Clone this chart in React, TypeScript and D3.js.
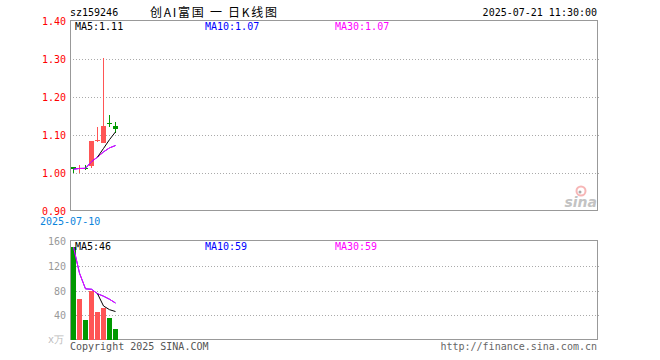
import React, { useEffect, useRef } from "react";
import * as d3 from "d3";

const dates = ["2025-07-10", "2025-07-11", "2025-07-14", "2025-07-15", "2025-07-16", "2025-07-17", "2025-07-18", "2025-07-21"];
const opens = [1.016, 1.013, 1.014, 1.017, 1.085, 1.078, 1.132, 1.124];
const highs = [1.016, 1.021, 1.021, 1.084, 1.12, 1.302, 1.152, 1.135];
const lows = [0.999, 1.001, 1.008, 1.013, 1.082, 1.078, 1.12, 1.106];
const closes = [1.01, 1.014, 1.013, 1.084, 1.088, 1.124, 1.13, 1.115];
const volumes = [150, 66, 32, 80, 46, 51, 36, 17];

const priceTicks = [1.4, 1.3, 1.2, 1.1, 1.0, 0.9];
const volTicks = [160, 120, 80, 40];

const svgWidth = 660;
const svgHeight = 360;
const left = 70;
const right = 597;
const mono = "'DejaVu Sans Mono', monospace";

const red = "#ff5555";
const green = "#009900";

// moving average using whatever data is available (like sina does on new listings)
function movAvg(vals: number[], n: number, needFull: boolean) {
  return vals.map((v, i) => {
    if (needFull && i < n - 1) return null;
    const s = vals.slice(Math.max(0, i - n + 1), i + 1);
    return d3.mean(s) as number;
  });
}

export default function App() {
  const ref = useRef<HTMLDivElement>(null);

  useEffect(() => {
    const el = ref.current;
    if (!el) return;
    el.innerHTML = "";
    const svg = d3.select(el).append("svg")
      .attr("width", svgWidth)
      .attr("height", svgHeight)
      .style("display", "block");

    const xScale = d3.scaleBand<string>()
      .domain(dates)
      .range([left, left + 6 * dates.length]);
    const cx = (d: string) => (xScale(d) as number) + 3.5;

    const yScale = d3.scaleLinear().domain([0.9, 1.4]).range([211, 21]);
    const vScale = d3.scaleLinear().domain([0, 160]).range([340, 241]);

    // header
    svg.append("text").text("sz159246")
      .attr("x", left).attr("y", 16).attr("font-family", mono).attr("font-size", 10).attr("fill", "#000");
    svg.append("text").text("创AI富国 一 日K线图")
      .attr("x", 150).attr("y", 17).attr("font-family", "'Noto Sans CJK SC', sans-serif")
      .attr("font-size", 12).attr("fill", "#000").attr("textLength", 127);
    svg.append("text").text("2025-07-21 11:30:00")
      .attr("x", right).attr("y", 16).attr("text-anchor", "end")
      .attr("font-family", mono).attr("font-size", 10).attr("fill", "#000");

    // price grid + frame
    const pg = svg.append("g").attr("shape-rendering", "crispEdges");
    pg.selectAll("line.grid")
      .data(priceTicks.slice(1, -1))
      .enter().append("line")
      .attr("x1", left).attr("x2", right + 2)
      .attr("y1", d => Math.round(yScale(d)) + 0.5)
      .attr("y2", d => Math.round(yScale(d)) + 0.5)
      .attr("stroke", "#aaa").attr("stroke-dasharray", "1 2");
    pg.append("rect")
      .attr("x", left + 0.5).attr("y", 20.5)
      .attr("width", right - left).attr("height", 190)
      .attr("fill", "none").attr("stroke", "#999");
    svg.selectAll("text.ptick")
      .data(priceTicks)
      .enter().append("text")
      .text(d => d.toFixed(2))
      .attr("x", 66).attr("y", d => yScale(d) + 4)
      .attr("text-anchor", "end").attr("font-family", mono).attr("font-size", 10).attr("fill", "#ff0000");
    svg.append("text").text("2025-07-10")
      .attr("x", 40).attr("y", 225).attr("font-family", mono).attr("font-size", 10).attr("fill", "#0a84dc");

    // sina logo (rough)
    const logo = svg.append("g").attr("opacity", 0.5);
    logo.append("circle").attr("cx", 581).attr("cy", 191).attr("r", 4.5).attr("fill", "none").attr("stroke", "#f07070").attr("stroke-width", 2);
    logo.append("circle").attr("cx", 580).attr("cy", 192).attr("r", 1.5).attr("fill", "#555");
    logo.append("text").text("sina")
      .attr("x", 597).attr("y", 207).attr("text-anchor", "end")
      .attr("font-family", "'DejaVu Sans', sans-serif").attr("font-style", "italic").attr("font-weight", "bold")
      .attr("font-size", 14).attr("fill", "#888");

    // candles: wick as 1px rect, body as 5px rect
    const cg = svg.append("g").attr("shape-rendering", "crispEdges");
    dates.forEach((d, i) => {
      const up = closes[i] >= opens[i];
      const col = up ? red : green;
      const hy = Math.round(yScale(highs[i]));
      const ly = Math.round(yScale(lows[i]));
      cg.append("rect")
        .attr("x", (xScale(d) as number) + 3).attr("width", 1)
        .attr("y", hy).attr("height", Math.max(1, ly - hy))
        .attr("fill", col);
      const top = yScale(Math.max(opens[i], closes[i]));
      const bot = yScale(Math.min(opens[i], closes[i]));
      cg.append("rect")
        .attr("x", (xScale(d) as number) + 1).attr("width", 5)
        .attr("y", Math.round(top)).attr("height", Math.max(1, Math.round(bot - top)))
        .attr("fill", col);
    });

    const line = d3.line<[number, number | null]>()
      .defined(p => p[1] !== null)
      .x(p => p[0]).y(p => p[1] as number);

    const pMa5 = movAvg(closes, 5, true);
    const pMa10 = movAvg(closes, 10, false);
    const pMa30 = movAvg(closes, 30, false);
    [[pMa10, "#0000ff"], [pMa30, "#ff00ff"], [pMa5, "#000"]].forEach(([ma, c]) => {
      svg.append("path")
        .attr("d", line(dates.map((d, i) => [cx(d), (ma as any)[i] === null ? null : yScale((ma as any)[i])])))
        .attr("fill", "none").attr("stroke", c as string).attr("stroke-width", 1);
    });

    svg.append("text").text("MA5:" + (pMa5[7] as number).toFixed(2))
      .attr("x", 75).attr("y", 30).attr("font-family", mono).attr("font-size", 10).attr("fill", "#000");
    svg.append("text").text("MA10:" + (pMa10[7] as number).toFixed(2))
      .attr("x", 205).attr("y", 30).attr("font-family", mono).attr("font-size", 10).attr("fill", "#0000ff");
    svg.append("text").text("MA30:" + (pMa30[7] as number).toFixed(2))
      .attr("x", 335).attr("y", 30).attr("font-family", mono).attr("font-size", 10).attr("fill", "#ff00ff");

    // volume panel
    const vg = svg.append("g").attr("shape-rendering", "crispEdges");
    vg.selectAll("line.grid")
      .data(volTicks.slice(1))
      .enter().append("line")
      .attr("x1", left).attr("x2", right + 2)
      .attr("y1", d => Math.round(vScale(d)) + 0.5)
      .attr("y2", d => Math.round(vScale(d)) + 0.5)
      .attr("stroke", "#aaa").attr("stroke-dasharray", "1 2");
    vg.append("rect")
      .attr("x", left + 0.5).attr("y", 240.5)
      .attr("width", right - left).attr("height", 99)
      .attr("fill", "none").attr("stroke", "#999");
    svg.selectAll("text.vtick")
      .data(volTicks)
      .enter().append("text")
      .text(d => d)
      .attr("x", 66).attr("y", d => vScale(d) + 4)
      .attr("text-anchor", "end").attr("font-family", mono).attr("font-size", 10).attr("fill", "#999");
    svg.append("text").text("x万")
      .attr("x", 48).attr("y", 343).attr("font-family", mono).attr("font-size", 10).attr("fill", "#bbb");

    vg.selectAll("rect.bar")
      .data(dates)
      .enter().append("rect")
      .attr("x", d => (xScale(d) as number) + 1)
      .attr("width", 5)
      .attr("y", (d, i) => Math.round(vScale(volumes[i])))
      .attr("height", (d, i) => 340 - Math.round(vScale(volumes[i])))
      .attr("fill", (d, i) => closes[i] >= opens[i] ? red : green);

    const vMa5 = movAvg(volumes, 5, true);
    const vMa10 = movAvg(volumes, 10, false);
    const vMa30 = movAvg(volumes, 30, false);
    [[vMa10, "#0000ff"], [vMa30, "#ff00ff"], [vMa5, "#000"]].forEach(([ma, c]) => {
      svg.append("path")
        .attr("d", line(dates.map((d, i) => [cx(d), (ma as any)[i] === null ? null : vScale((ma as any)[i])])))
        .attr("fill", "none").attr("stroke", c as string).attr("stroke-width", 1);
    });

    svg.append("text").text("MA5:" + Math.floor(vMa5[7] as number))
      .attr("x", 75).attr("y", 250).attr("font-family", mono).attr("font-size", 10).attr("fill", "#000");
    svg.append("text").text("MA10:" + Math.floor(vMa10[7] as number))
      .attr("x", 205).attr("y", 250).attr("font-family", mono).attr("font-size", 10).attr("fill", "#0000ff");
    svg.append("text").text("MA30:" + Math.floor(vMa30[7] as number))
      .attr("x", 335).attr("y", 250).attr("font-family", mono).attr("font-size", 10).attr("fill", "#ff00ff");

    // footer
    svg.append("text").text("Copyright 2025 SINA.COM")
      .attr("x", left).attr("y", 350).attr("font-family", mono).attr("font-size", 10).attr("fill", "#555");
    svg.append("text").text("http://finance.sina.com.cn")
      .attr("x", right).attr("y", 350).attr("text-anchor", "end")
      .attr("font-family", mono).attr("font-size", 10).attr("fill", "#666");
  }, []);

  return <div ref={ref} style={{ position: "absolute", left: 0, top: 0 }}></div>;
}
